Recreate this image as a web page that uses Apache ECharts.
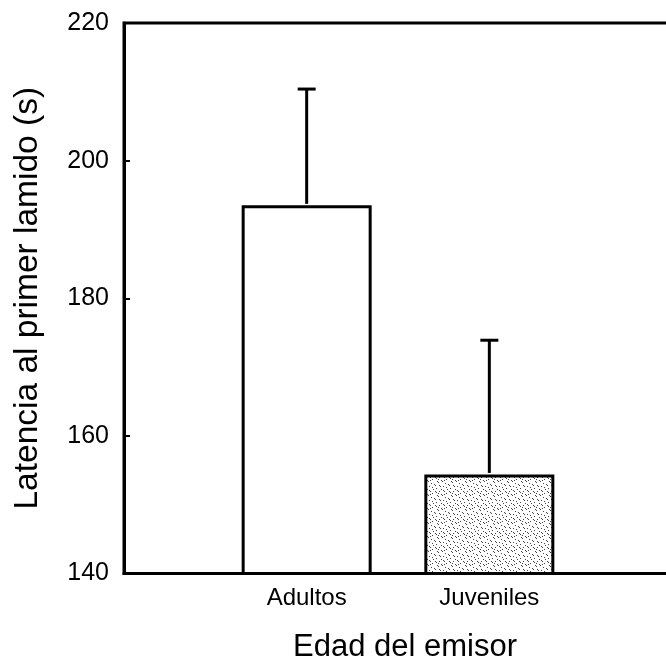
<!DOCTYPE html>
<html>
<head>
<meta charset="utf-8">
<script src="https://cdn.jsdelivr.net/npm/echarts@6/dist/echarts.min.js"></script>
<style>html,body{margin:0;padding:0;background:#fff;}#c{width:666px;height:669px;}</style>
</head>
<body>
<div id="c"></div>
<script>
// ---- data ----
var categories = ['', 'Adultos', 'Juveniles', ''];
var means = [null, 193.5, 154.4, null];
var errors = [null, 16.9, 19.5, null];
var yTicks = [140, 160, 180, 200, 220];

// ---- speckle texture (fixed pattern) ----
function speckle() {
  var c = document.createElement('canvas');
  c.width = 14; c.height = 14;
  var g = c.getContext('2d');
  g.fillStyle = '#fff'; g.fillRect(0, 0, 14, 14);
  g.fillStyle = '#444';
  var pts = [[1,1],[2,2],[5,1],[9,0],[10,1],[12,3],[3,5],[4,6],[7,4],[8,5],[11,7],[0,8],[1,9],[5,9],[6,10],[9,10],[12,11],[2,12],[7,13],[13,13],[10,4],[4,3]];
  pts.forEach(function (p) { g.fillRect(p[0], p[1], 1, 1); });
  return c;
}

var chart = echarts.init(document.getElementById('c'), null, {renderer: 'canvas'});
var font = 'Liberation Sans, Arial, sans-serif';

var barData = means.map(function (v, i) {
  if (v === null) return null;
  return {
    value: v,
    itemStyle: {
      color: i === 2 ? {image: speckle(), repeat: 'repeat'} : '#fff',
      borderColor: '#000', borderWidth: 3
    }
  };
});

var errData = means.map(function (v, i) {
  return v === null ? null : [i, v, v + errors[i]];
}).filter(function (d) { return d; });

chart.setOption({
  animation: false,
  grid: {left: 124, width: 548, top: 23, bottom: 95.5, outerBoundsMode: 'none', containLabel: false, show: true, borderColor: '#000', borderWidth: 3, backgroundColor: 'transparent'},
  xAxis: {
    type: 'category',
    data: categories,
    boundaryGap: false,
    axisLine: {lineStyle: {color: '#000', width: 3}},
    axisTick: {show: false},
    axisLabel: {color: '#000', fontFamily: font, fontSize: 24, margin: 13},
    name: 'Edad del emisor',
    nameLocation: 'middle',
    nameGap: 58,
    nameTextStyle: {color: '#000', fontFamily: font, fontSize: 31, padding: [0, 0, 0, 14]}
  },
  yAxis: {
    type: 'value',
    min: yTicks[0], max: yTicks[yTicks.length - 1], interval: 20,
    axisLine: {show: true, lineStyle: {color: '#000', width: 3}},
    axisTick: {show: true, inside: true, length: 6, lineStyle: {color: '#000', width: 2}},
    splitLine: {show: false},
    axisLabel: {color: '#000', fontFamily: font, fontSize: 25, margin: 15},
    name: 'Latencia al primer lamido (s)',
    nameLocation: 'middle',
    nameGap: 79,
    nameTextStyle: {color: '#000', fontFamily: font, fontSize: 33.5}
  },
  series: [
    {
      type: 'bar',
      data: barData,
      barWidth: 130,
      z: 2
    },
    {
      type: 'custom',
      data: errData,
      z: 3,
      renderItem: function (params, api) {
        var x = api.value(0);
        var lo = api.coord([x, api.value(1)]);
        var hi = api.coord([x, api.value(2)]);
        var hw = 9;
        return {
          type: 'group',
          children: [
            {type: 'line', shape: {x1: lo[0], y1: lo[1] - 1.5, x2: hi[0], y2: hi[1]}, style: {stroke: '#000', lineWidth: 3}},
            {type: 'line', shape: {x1: hi[0] - hw, y1: hi[1], x2: hi[0] + hw, y2: hi[1]}, style: {stroke: '#000', lineWidth: 3}}
          ]
        };
      }
    }
  ]
});
</script>
</body>
</html>
